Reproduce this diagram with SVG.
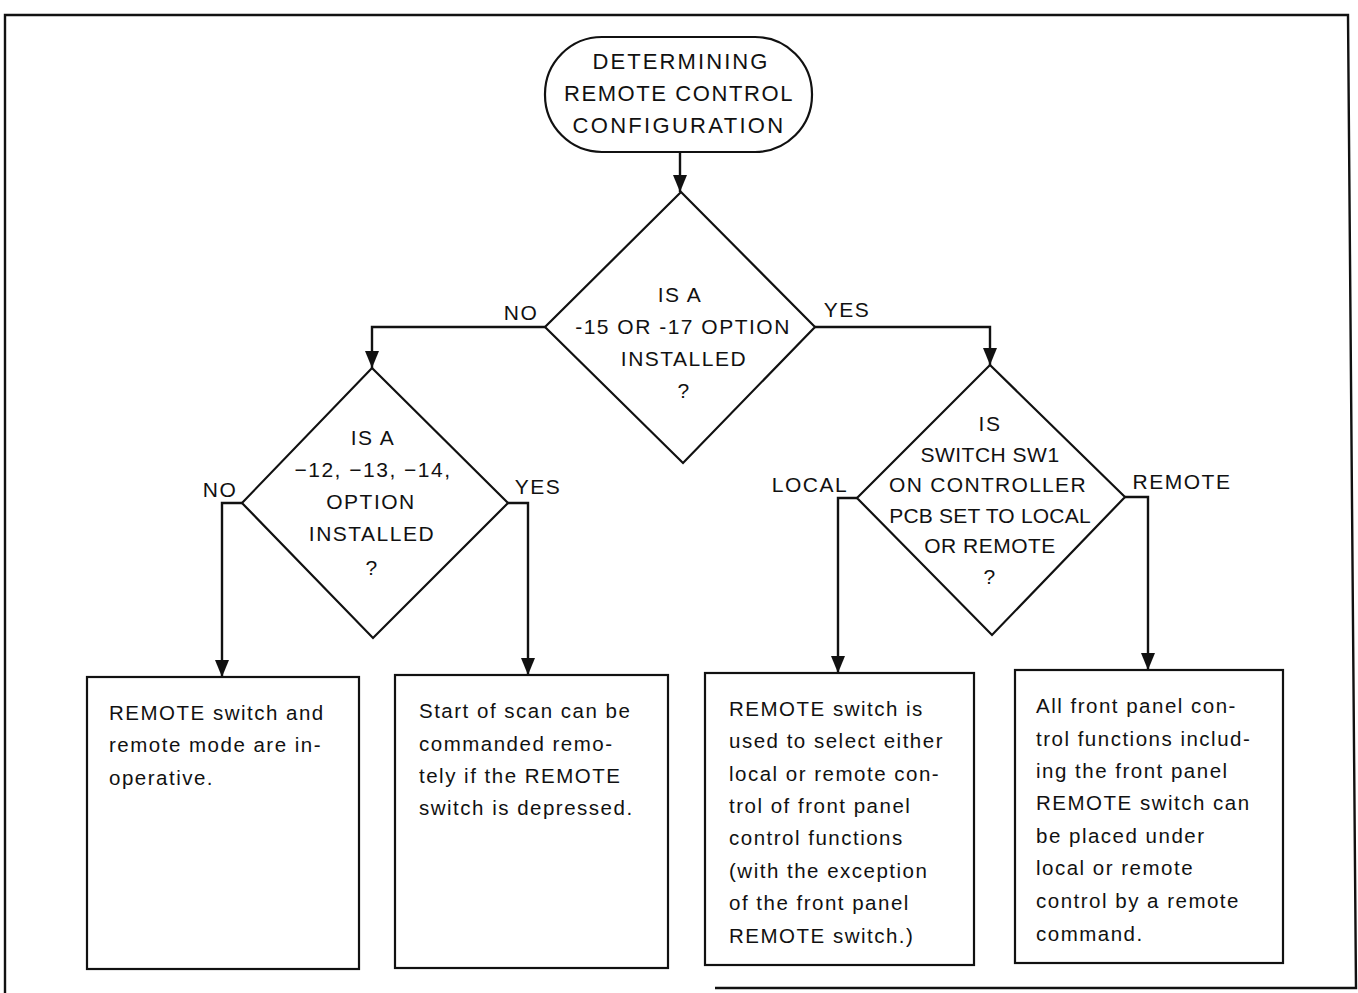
<svg xmlns="http://www.w3.org/2000/svg" width="1358" height="993" viewBox="0 0 1358 993">
<defs>
<style>
.shape{fill:#fff;stroke:#111;stroke-width:2.2}
.line{fill:none;stroke:#111;stroke-width:2.4}
.cap{font-family:"Liberation Sans",Arial,sans-serif;font-size:21px;letter-spacing:1.5px;fill:#111;text-anchor:middle}
.body{font-family:"Liberation Sans",Arial,sans-serif;font-size:20.5px;letter-spacing:1.5px;fill:#111}
.lbl{font-family:"Liberation Sans",Arial,sans-serif;font-size:21px;letter-spacing:1.5px;fill:#111;text-anchor:middle}
.term{font-size:22px;letter-spacing:1.6px}
</style>
<marker id="arr" viewBox="0 0 18 14" refX="17" refY="7" markerWidth="18" markerHeight="14" markerUnits="userSpaceOnUse" orient="auto">
<path d="M0,0 L17,7 L0,14 Z" fill="#111"/>
</marker>
</defs>
<rect width="1358" height="993" fill="#fff"/>
<path class="line" d="M5,993 V15 H1348 L1356,988 H715" stroke-width="2"/>

<g id="connectors">
<path class="line" d="M680,152 V192" marker-end="url(#arr)"/>
<path class="line" d="M545,327 H372 V368" marker-end="url(#arr)"/>
<path class="line" d="M815,327 H990 V365" marker-end="url(#arr)"/>
<path class="line" d="M242,503 H222 V677" marker-end="url(#arr)"/>
<path class="line" d="M508,503 H528 V675" marker-end="url(#arr)"/>
<path class="line" d="M857,498 H838 V673" marker-end="url(#arr)"/>
<path class="line" d="M1125,497 H1148 V670" marker-end="url(#arr)"/>
<text class="lbl" x="521" y="320">NO</text>
<text class="lbl" x="847" y="317">YES</text>
<text class="lbl" x="220" y="497">NO</text>
<text class="lbl" x="538" y="494">YES</text>
<text class="lbl" x="810" y="492">LOCAL</text>
<text class="lbl" x="1182" y="489">REMOTE</text>
</g>

<g id="start">
<rect class="shape" x="545" y="37" width="267" height="115" rx="57" ry="57"/>
<text class="cap term" x="681" y="69" style="letter-spacing:2.1px">DETERMINING</text>
<text class="cap term" x="679" y="101">REMOTE CONTROL</text>
<text class="cap term" x="679" y="133" style="letter-spacing:2.3px">CONFIGURATION</text>
</g>

<g id="d1">
<polygon class="shape" points="681,192 815,327 683,463 545,327"/>
<text class="cap" x="680" y="302">IS A</text>
<text class="cap" x="683" y="334">-15 OR -17 OPTION</text>
<text class="cap" x="684" y="366">INSTALLED</text>
<text class="cap" x="684" y="398">?</text>
</g>

<g id="d2">
<polygon class="shape" points="372,368 508,503 373,638 242,503"/>
<text class="cap" x="373" y="445">IS A</text>
<text class="cap" x="373" y="477">−12, −13, −14,</text>
<text class="cap" x="371" y="509">OPTION</text>
<text class="cap" x="372" y="541">INSTALLED</text>
<text class="cap" x="372" y="575">?</text>
</g>

<g id="d3">
<polygon class="shape" points="990,365 1125,497 992,635 857,498"/>
<text class="cap" x="990" y="431">IS</text>
<text class="cap" x="990" y="462" style="letter-spacing:0.5px">SWITCH SW1</text>
<text class="cap" x="988" y="492" style="letter-spacing:1.3px">ON CONTROLLER</text>
<text class="cap" x="990" y="523" style="letter-spacing:0.2px">PCB SET TO LOCAL</text>
<text class="cap" x="990" y="553" style="letter-spacing:0.5px">OR REMOTE</text>
<text class="cap" x="990" y="584">?</text>
</g>

<g id="b1">
<rect class="shape" x="87" y="677" width="272" height="292"/>
<text class="body" x="109" y="720">REMOTE switch and</text>
<text class="body" x="109" y="752">remote mode are in-</text>
<text class="body" x="109" y="785">operative.</text>
</g>

<g id="b2">
<rect class="shape" x="395" y="675" width="273" height="293"/>
<text class="body" x="419" y="718">Start of scan can be</text>
<text class="body" x="419" y="751">commanded remo-</text>
<text class="body" x="419" y="783">tely if the REMOTE</text>
<text class="body" x="419" y="815">switch is depressed.</text>
</g>

<g id="b3">
<rect class="shape" x="705" y="673" width="269" height="292"/>
<text class="body" x="729" y="716">REMOTE switch is</text>
<text class="body" x="729" y="748">used to select either</text>
<text class="body" x="729" y="781">local or remote con-</text>
<text class="body" x="729" y="813">trol of front panel</text>
<text class="body" x="729" y="845">control functions</text>
<text class="body" x="729" y="878">(with the exception</text>
<text class="body" x="729" y="910">of the front panel</text>
<text class="body" x="729" y="943">REMOTE switch.)</text>
</g>

<g id="b4">
<rect class="shape" x="1015" y="670" width="268" height="293"/>
<text class="body" x="1036" y="713">All front panel con-</text>
<text class="body" x="1036" y="746">trol functions includ-</text>
<text class="body" x="1036" y="778">ing the front panel</text>
<text class="body" x="1036" y="810">REMOTE switch can</text>
<text class="body" x="1036" y="843">be placed under</text>
<text class="body" x="1036" y="875">local or remote</text>
<text class="body" x="1036" y="908">control by a remote</text>
<text class="body" x="1036" y="941">command.</text>
</g>
</svg>
